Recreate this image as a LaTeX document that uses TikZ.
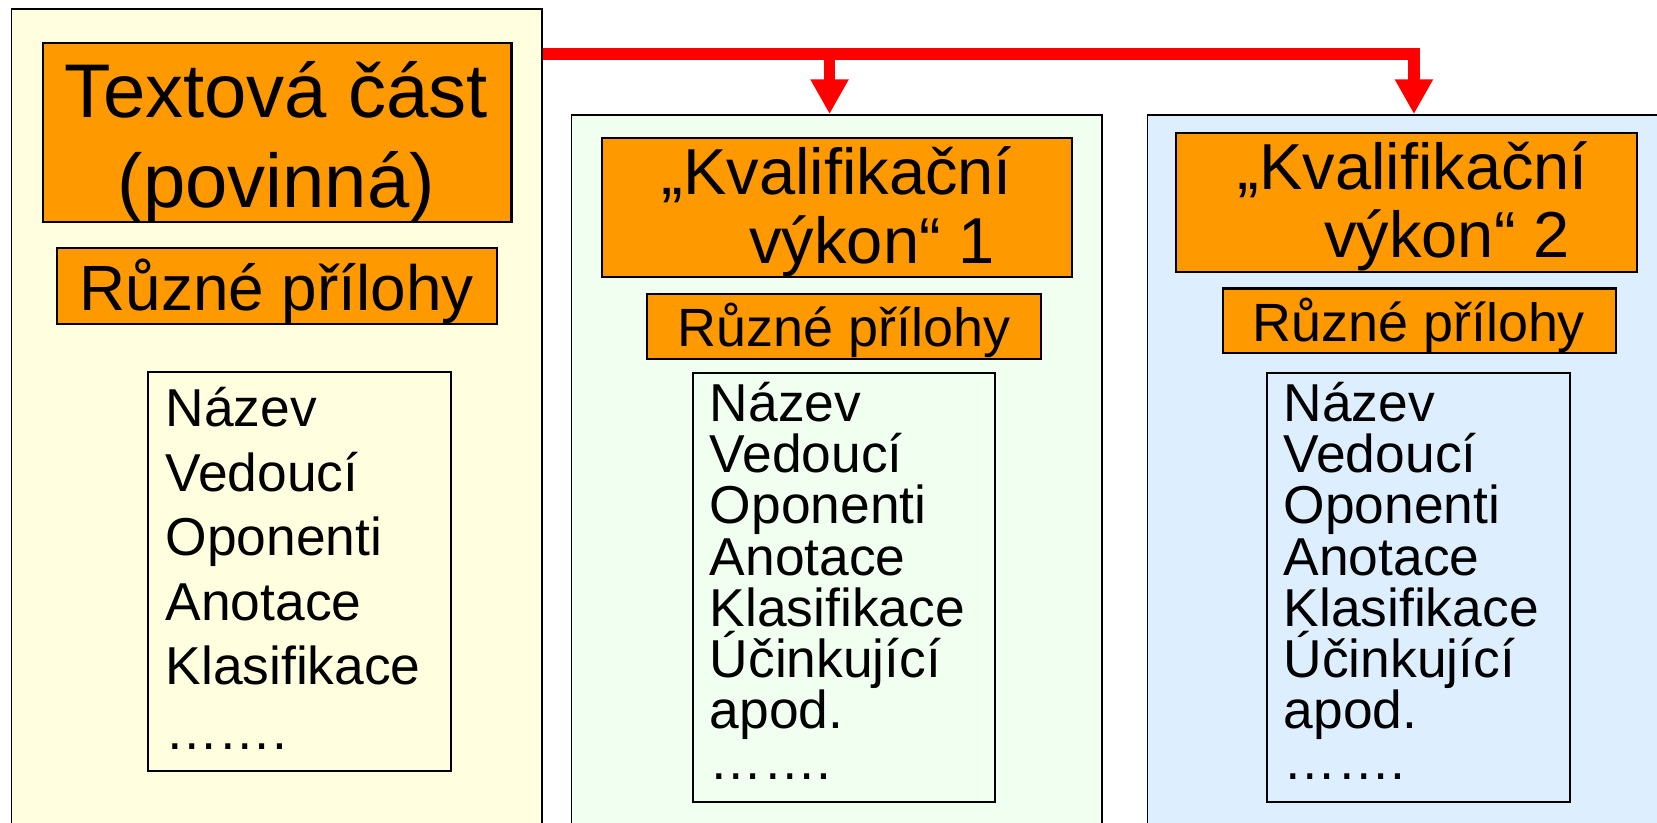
\documentclass[tikz,border=0pt]{standalone}
\usepackage{fontspec}
\setmainfont{Liberation Sans}[Ligatures=NoCommon]
\usetikzlibrary{arrows.meta}
\definecolor{orng}{HTML}{FF9900}
\definecolor{pyel}{HTML}{FFFFE0}
\definecolor{pgrn}{HTML}{F0FFF0}
\definecolor{pblu}{HTML}{DDEEFF}
\begin{document}
\begin{tikzpicture}[x=1pt,y=-1pt,
  panel/.style={draw=black,line width=1.6pt,inner sep=0pt,anchor=north west},
  obox/.style={draw=black,fill=orng,line width=2pt,inner sep=0pt,anchor=north west},
  lbox/.style={draw=black,line width=1.6pt,inner sep=0pt,anchor=north west},
  txt/.style={inner sep=0pt,anchor=base west},
  ctxt/.style={inner sep=0pt,anchor=base},
  bigf/.style={font=\fontsize{72}{86}\selectfont},
  kvf/.style={font=\fontsize{61.5}{72}\selectfont},
  prf/.style={font=\fontsize{60.5}{70}\selectfont},
  prsf/.style={font=\fontsize{51}{60}\selectfont},
  lsf/.style={font=\fontsize{50.5}{59}\selectfont},
  conn/.style={draw=red,line width=11pt,line join=miter},
  tipr/.style={-{Triangle[width=34pt,length=33pt]}}
]
\useasboundingbox (0,0) rectangle (1568,778);
\clip (0,0) rectangle (1568,778);
\fill[white] (0,0) rectangle (1568,778);

% panels
\node[panel,fill=pyel,minimum width=502pt,minimum height=800pt] (p0) at (10,8) {};
\node[panel,fill=pgrn,minimum width=502pt,minimum height=700pt] (p1) at (540,108) {};
\node[panel,fill=pblu,minimum width=506pt,minimum height=700pt] (p2) at (1085,108) {};

% orange boxes
\node[obox,minimum width=443pt,minimum height=169pt] (t0) at (40,40) {};
\node[obox,minimum width=416pt,minimum height=72pt] (a0) at (53,234) {};
\node[obox,minimum width=444pt,minimum height=131pt] (t1) at (569,130) {};
\node[obox,minimum width=373pt,minimum height=62pt] (a1) at (611,277) {};
\node[obox,minimum width=436pt,minimum height=131pt] (t2) at (1112,125) {};
\node[obox,minimum width=372pt,minimum height=61pt] (a2) at (1156,272) {};

% list boxes
\node[lbox,minimum width=287pt,minimum height=378pt] (l0) at (139,351) {};
\node[lbox,minimum width=286pt,minimum height=406pt] (l1) at (655,352) {};
\node[lbox,minimum width=287pt,minimum height=406pt] (l2) at (1198,352) {};

% titles
\node[ctxt,bigf] (t0a) at (261.5,111) {Textová část};
\node[ctxt,bigf] (t0b) at (261.5,196) {(povinná)};
\node[txt,prf] (a0t) at (75,294) {Různé přílohy};

\node[txt,kvf] (t1a) at (626,184.5) {„Kvalifikační};
\node[txt,kvf] (t1b) at (709,249) {výkon“ 1};
\node[txt,prsf] (a1t) at (641,328) {Různé přílohy};

\node[txt,kvf] (t2a) at (1171,179) {„Kvalifikační};
\node[txt,kvf] (t2b) at (1253,244) {výkon“ 2};
\node[txt,prsf] (a2t) at (1185,323) {Různé přílohy};

% lists
\foreach \w [count=\i from 0] in {Název,Vedoucí,Oponenti,Anotace,Klasifikace,…….}
  \node[txt,lsf] (la\i) at (156.5,{404+61*\i}) {\w};
\foreach \w [count=\i from 0] in {Název,Vedoucí,Oponenti,Anotace,Klasifikace,Účinkující,apod.,…….}
  \node[txt,lsf] (lb\i) at (671.5,{399+48.4*\i}) {\w};
\foreach \w [count=\i from 0] in {Název,Vedoucí,Oponenti,Anotace,Klasifikace,Účinkující,apod.,…….}
  \node[txt,lsf] (lc\i) at (1214.5,{399+48.4*\i}) {\w};

% connectors
\coordinate (j1) at (785,51);
\coordinate (j2) at (1338,51);
\draw[conn,tipr] (p0.east |- j1) -- (j2) -- (j2 |- p2.north);
\draw[conn,tipr] (j1) -- (j1 |- p1.north);
\end{tikzpicture}
\end{document}
